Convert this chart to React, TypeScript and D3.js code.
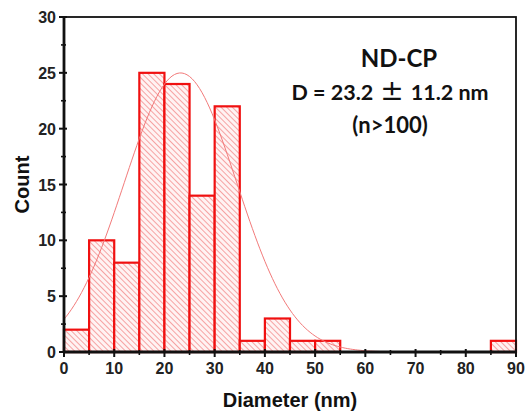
import React from "react";
import * as d3 from "d3";

const binStarts = [0, 5, 10, 15, 20, 25, 30, 35, 40, 45, 50, 55, 60, 65, 70, 75, 80, 85];
const counts = [2, 10, 8, 25, 24, 14, 22, 1, 3, 1, 1, 0, 0, 0, 0, 0, 0, 1];
const binWidth = 5;
const xTicks = [0, 10, 20, 30, 40, 50, 60, 70, 80, 90];
const yTicks = [0, 5, 10, 15, 20, 25, 30];
const fitMean = 23.2;
const fitSigma = 11.2;
const fitAmp = 25;

const W = 530, H = 413;
const M = { left: 64, right: 14, top: 17, bottom: 61 };

export default function App() {
  const x = d3.scaleLinear().domain([0, 90]).range([M.left, W - M.right]);
  const y = d3.scaleLinear().domain([0, 30]).range([H - M.bottom, M.top]);
  const x0 = x(0), x1 = x(90), y0 = y(0), y1 = y(30);

  const fitPts = d3.range(0, 90.01, 0.5).map((v) => [v, fitAmp * Math.exp(-((v - fitMean) ** 2) / (2 * fitSigma ** 2))] as [number, number]);
  const line = d3.line<[number, number]>().x((d) => x(d[0])).y((d) => y(d[1])).curve(d3.curveBasis);

  const xMinor = d3.range(5, 90, 10);
  const yMinor = d3.range(2.5, 30, 5);
  const red = "#f01010";
  const tickFont = "'Liberation Sans', Arial, sans-serif";
  const titleFont = "Lato, 'Open Sans', sans-serif";

  return (
    <svg width={W} height={H} style={{ position: "absolute", left: 0, top: 0, background: "#fff" }}>
      <defs>
        <pattern id="hatch" patternUnits="userSpaceOnUse" width="4" height="4" patternTransform="rotate(-45)">
          <rect width="4" height="4" fill="#fff3f3" />
          <line x1="0" y1="0" x2="0" y2="4" stroke="#f06060" strokeWidth="1.1" />
        </pattern>
      </defs>
      {binStarts.map((b, i) =>
        counts[i] > 0 ? (
          <rect
            key={i}
            x={x(b)}
            y={y(counts[i])}
            width={x(b + binWidth) - x(b)}
            height={y0 - y(counts[i])}
            fill="url(#hatch)"
            stroke={red}
            strokeWidth={2.2}
          />
        ) : null
      )}
      <path d={line(fitPts) || ""} fill="none" stroke="#f27a7a" strokeWidth={1} />
      {/* frame */}
      <rect x={x0} y={y1} width={x1 - x0} height={y0 - y1} fill="none" stroke="#111" strokeWidth={1.8} />
      <line x1={x0} x2={x0} y1={y1} y2={y0} stroke="#111" strokeWidth={2.8} />
      <line x1={x0} x2={x1} y1={y0} y2={y0} stroke="#111" strokeWidth={2.8} />
      {/* x ticks */}
      {xTicks.map((t) => (
        <g key={"xt" + t}>
          <line x1={x(t)} x2={x(t)} y1={y0 - 3} y2={y0 + 5} stroke="#111" strokeWidth={2} />
          <text x={x(t)} y={y0 + 22} textAnchor="middle" fontFamily={tickFont} fontWeight="bold" fontSize={16} fill="#222">
            {t}
          </text>
        </g>
      ))}
      {xMinor.map((t) => (
        <line key={"xm" + t} x1={x(t)} x2={x(t)} y1={y0 - 2} y2={y0 + 3} stroke="#111" strokeWidth={1.6} />
      ))}
      {yTicks.map((t) => (
        <g key={"yt" + t}>
          <line x1={x0 - 5} x2={x0 + 3} y1={y(t)} y2={y(t)} stroke="#111" strokeWidth={2} />
          <text x={x0 - 8} y={y(t) + 6} textAnchor="end" fontFamily={tickFont} fontWeight="bold" fontSize={16} fill="#222">
            {t}
          </text>
        </g>
      ))}
      {yMinor.map((t) => (
        <line key={"ym" + t} x1={x0 - 3} x2={x0 + 2} y1={y(t)} y2={y(t)} stroke="#111" strokeWidth={1.6} />
      ))}
      <text
        transform={`translate(29, ${(y0 + y1) / 2}) rotate(-90)`}
        textAnchor="middle"
        fontFamily={tickFont}
        fontWeight="bold"
        fontSize={20}
        fill="#111"
      >
        Count
      </text>
      <text x={290} y={407} textAnchor="middle" fontFamily={tickFont} fontWeight="bold" fontSize={20} fill="#111">
        Diameter (nm)
      </text>
      <text x={399} y={67} textAnchor="middle" fontFamily={titleFont} fontWeight="bold" fontSize={24} fill="#111">
        ND-CP
      </text>
      <text x={390} y={100} textAnchor="middle" fontFamily={titleFont} fontWeight="bold" fontSize={21.5} fill="#111">
        D = 23.2<tspan dx={7} fontSize={28} fontWeight="normal" fontFamily="'DejaVu Sans', sans-serif">±</tspan>
        <tspan dx={7}>11.2 nm</tspan>
      </text>
      <text x={390} y={133} textAnchor="middle" fontFamily={titleFont} fontWeight="bold" fontSize={22} fill="#111">
        (n&gt;100)
      </text>
    </svg>
  );
}
